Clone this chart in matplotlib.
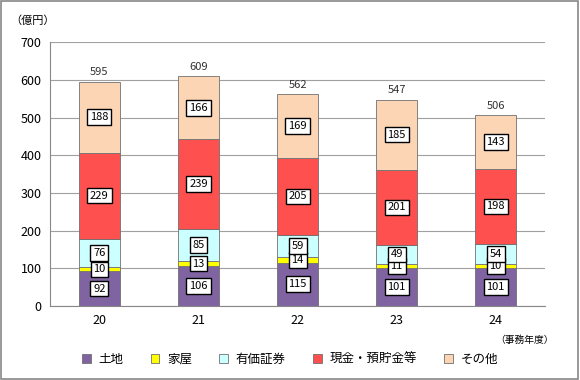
import matplotlib
matplotlib.use("Agg")
import matplotlib.pyplot as plt
from matplotlib.patches import Rectangle
import numpy as np

plt.rcParams['font.family'] = ['Noto Sans CJK JP', 'DejaVu Sans']

years = ['20', '21', '22', '23', '24']
series_names = ['土地', '家屋', '有価証券', '現金・預貯金等', 'その他']
land = [92, 106, 115, 101, 101]
house = [10, 13, 14, 11, 10]
securities = [76, 85, 59, 49, 54]
cash = [229, 239, 205, 201, 198]
other = [188, 166, 169, 185, 143]
colors = ['#8064A2', '#FFFF00', '#CCFFFF', '#FF5050', '#FCD5B5']

fig = plt.figure(figsize=(5.8, 3.8), dpi=100)
ax = fig.add_axes([0.086, 0.195, 0.854, 0.694])

x = np.arange(len(years))
bottom = np.zeros(len(years))
handles = []
for name, vals, col in zip(series_names, [land, house, securities, cash, other], colors):
    vals = np.array(vals)
    bars = ax.bar(x, vals, bottom=bottom, width=0.42, color=col,
                  edgecolor='#707070', linewidth=0.6, label=name)
    handles.append(bars)
    for xi, b, v in zip(x, bottom, vals):
        ax.text(xi, b + v / 2, str(v), ha='center', va='center', fontsize=8,
                bbox=dict(boxstyle='square,pad=0.25', fc='white', ec='black', lw=1))
    bottom += vals

# totals above bars
for xi, t in zip(x, bottom):
    ax.text(xi, t + 12, f'{int(t)}', ha='center', va='bottom', fontsize=8, color='#333333')

ax.set_xlim(-0.5, len(years) - 0.5)
ax.set_ylim(0, 700)
ax.set_yticks(range(0, 701, 100))
ax.set_xticks(x)
ax.set_xticklabels(years)
ax.tick_params(axis='both', labelsize=9, length=0, pad=6)
ax.yaxis.grid(True, color='#A0A0A0', linewidth=0.8)
ax.set_axisbelow(True)
for s in ['top', 'right']:
    ax.spines[s].set_visible(False)
ax.spines['left'].set_color('#888888')
ax.spines['bottom'].set_color('#888888')

fig.text(0.018, 0.945, '（億円）', fontsize=8, ha='left', va='center')
fig.text(0.955, 0.105, '（事務年度）', fontsize=7, ha='right', va='center')

fig.legend(handles=handles, labels=series_names, loc='center', bbox_to_anchor=(0.5, 0.055),
           ncol=5, frameon=False, fontsize=9, handlelength=0.7, handleheight=0.7,
           columnspacing=2.2, handletextpad=0.6)

fig.patches.append(Rectangle((0.002, 0.003), 0.995, 0.994, transform=fig.transFigure,
                             fill=False, edgecolor='#888888', linewidth=1.2))

fig.savefig('out.png', dpi=100)
